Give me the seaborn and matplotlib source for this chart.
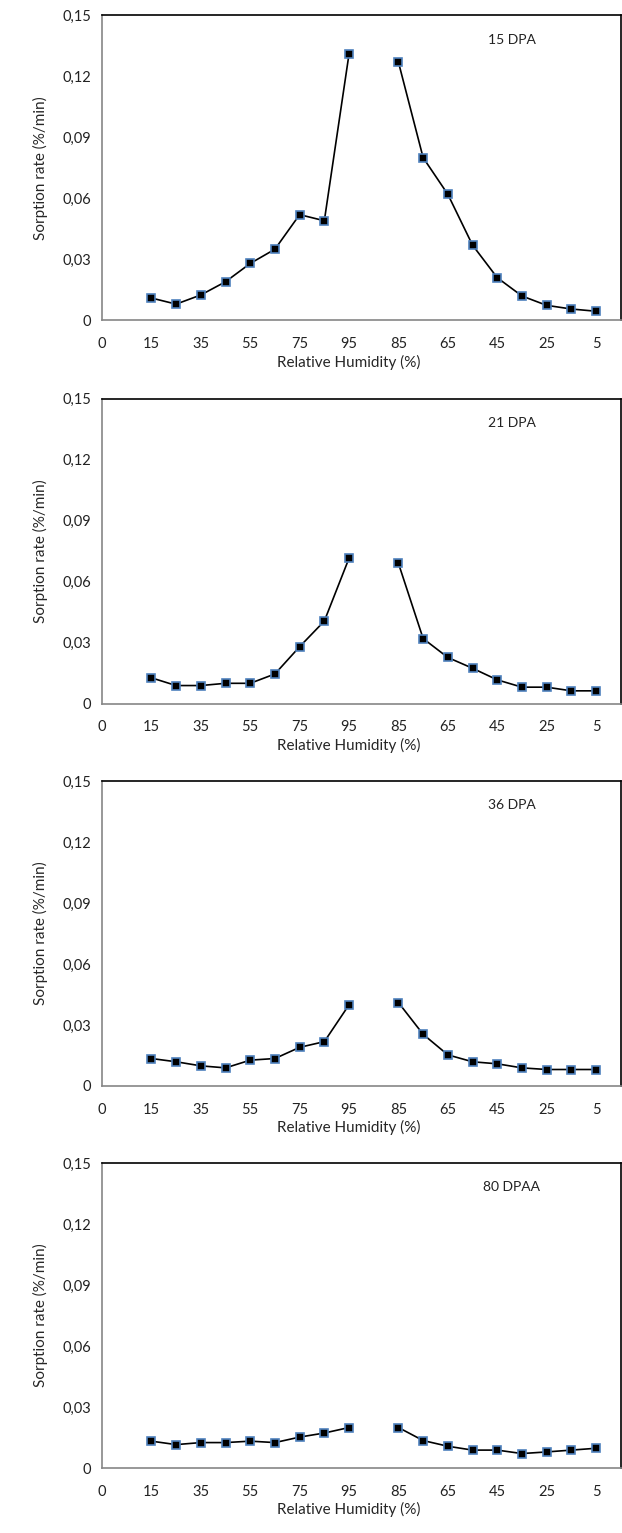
import numpy as np
import pandas as pd
import matplotlib
matplotlib.use("Agg")
import matplotlib.pyplot as plt
import seaborn as sns

# relative humidity steps (sorption up, then desorption down)
rh_sorp = [15, 25, 35, 45, 55, 65, 75, 85, 95]
rh_desorp = [85, 75, 65, 55, 45, 35, 25, 15, 5]

panel_names = ["15 DPA", "21 DPA", "36 DPA", "80 DPAA"]

sorp_15 = [0.011, 0.008, 0.0125, 0.019, 0.028, 0.035, 0.052, 0.049, 0.131]
desorp_15 = [0.127, 0.080, 0.062, 0.037, 0.021, 0.012, 0.0074, 0.0056, 0.0045]

sorp_21 = [0.0127, 0.0089, 0.0089, 0.0100, 0.0100, 0.0146, 0.028, 0.0406, 0.0715]
desorp_21 = [0.069, 0.032, 0.0227, 0.0174, 0.0117, 0.0081, 0.0081, 0.0063, 0.0063]

sorp_36 = [0.0135, 0.0119, 0.0099, 0.0089, 0.0127, 0.0135, 0.019, 0.0218, 0.0399]
desorp_36 = [0.041, 0.0254, 0.0153, 0.0119, 0.0109, 0.0089, 0.0081, 0.0081, 0.0081]

sorp_80 = [0.0132, 0.0115, 0.0125, 0.0125, 0.0132, 0.0125, 0.0152, 0.0172, 0.0199]
desorp_80 = [0.0199, 0.0135, 0.0107, 0.0088, 0.0088, 0.0071, 0.0079, 0.0088, 0.0097]

sorp_all = [sorp_15, sorp_21, sorp_36, sorp_80]
desorp_all = [desorp_15, desorp_21, desorp_36, desorp_80]

xtick_labels = ['0', '15', '35', '55', '75', '95', '85', '65', '45', '25', '5']
ytick_vals = [0, 0.03, 0.06, 0.09, 0.12, 0.15]
ytick_labels = ['0', '0,03', '0,06', '0,09', '0,12', '0,15']

sns.set_theme(style="white")
plt.rcParams['font.family'] = ['Lato', 'DejaVu Sans']

fig = plt.figure(figsize=(6.22, 15.33), dpi=100)
bottoms = [0.791, 0.541, 0.2916, 0.0424]
gray = '#868686'

for k in range(4):
    ax = fig.add_axes([0.164, bottoms[k], 0.834, 0.199])
    # position along axis: sorption 15..95 -> 2..10, desorption 85..5 -> 12..20
    pos_s = [(h + 5) / 10 for h in rh_sorp]
    pos_d = [21 - (h + 5) / 10 for h in rh_desorp]
    df = pd.DataFrame({
        'pos': pos_s + pos_d,
        'rate': sorp_all[k] + desorp_all[k],
        'branch': ['sorption'] * 9 + ['desorption'] * 9,
    })
    sns.lineplot(data=df, x='pos', y='rate', units='branch', estimator=None,
                 color='black', lw=1.2, marker='s', markersize=6,
                 markerfacecolor='black', markeredgecolor='#4F81BD',
                 markeredgewidth=1.2, sort=False, ax=ax, legend=False)
    ax.set_xlim(0, 21)
    ax.set_ylim(0, 0.15)
    ax.set_xticks(np.arange(0, 21, 2))
    ax.set_xticklabels(xtick_labels)
    ax.set_yticks(ytick_vals)
    ax.set_yticklabels(ytick_labels)
    ax.tick_params(axis='both', direction='out', length=4, width=1,
                   color=gray, labelsize=10.5, labelcolor='#222222', pad=4)
    ax.tick_params(axis='x', pad=8)
    ax.spines['left'].set_color(gray)
    ax.spines['bottom'].set_color(gray)
    ax.spines['top'].set_color('black')
    ax.spines['right'].set_color('black')
    for s in ax.spines.values():
        s.set_linewidth(1.2)
        s.set_visible(True)
    ax.set_xlabel('Relative Humidity (%)', fontsize=11)
    ax.xaxis.set_label_coords(0.476, -0.112)
    ax.set_ylabel('Sorption rate (%/min)', fontsize=11, labelpad=10)
    ax.text(0.79, 0.92, panel_names[k], transform=ax.transAxes,
            fontsize=10, ha='center', va='center', color='#222222')

fig.savefig('out.png', dpi=100)
